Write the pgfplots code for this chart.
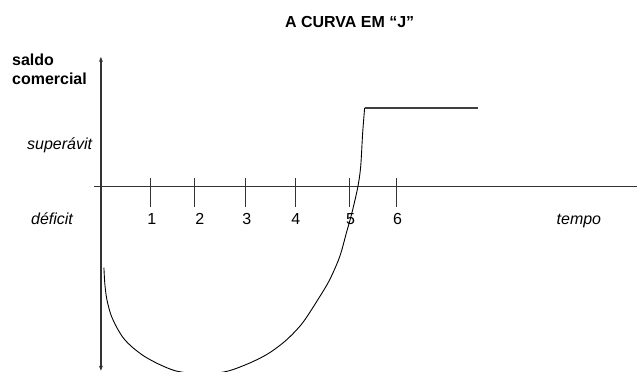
\documentclass[border=0pt]{standalone}
\usepackage{fontspec}
\setmainfont{Liberation Sans}
\usepackage{pgfplots}
\pgfplotsset{compat=1.18}
\usetikzlibrary{arrows.meta}

% pixel-like units: x = column, y = height above the time axis
\pgfplotstableread{
x   y
104 -81
105 -98
107 -113
111 -128
117 -141
124 -152
133 -161
145 -170
160 -178
175 -184
190 -186.5
205 -187
220 -186
233 -183
253 -175
270 -166
287 -153
303 -136
320 -110
330 -93
340 -70
347 -45
352 -27
358 -1
361 20
363 54
365 79
}\jcurve

\pgfplotstableread{
x   y
365 79
478 79
}\plateau

\begin{document}
\begin{tikzpicture}[font=\fontsize{16}{19}\selectfont]
\begin{axis}[
    scale only axis, width=638pt, height=372pt,
    xmin=0, xmax=638, ymin=-185, ymax=187,
    axis lines=none, clip mode=individual,
]
\path (rel axis cs:0,0) rectangle (rel axis cs:1,1);

% axes
\draw[line width=1.2pt, black!80, {Stealth[length=5pt,width=4pt]}-{Stealth[length=5pt,width=4pt]}]
    (axis cs:101,-184) -- (axis cs:101,130);
\draw[line width=1.2pt, black!80] (axis cs:94,0) -- (axis cs:638,0);
\pgfplotsinvokeforeach{151,195,246,296,350,397}{
    \draw[line width=1pt, black!80] (axis cs:#1,9) -- (axis cs:#1,-20);
}

% data
\addplot[black, line width=0.9pt, smooth, tension=0.5] table {\jcurve};
\addplot[black!75, line width=1.4pt] table {\plateau};

% texts
\node[anchor=base, inner sep=0pt] at (axis cs:350,159) {\bfseries A CURVA EM “J”};
\node[anchor=base west, inner sep=0pt] at (axis cs:12,121) {\bfseries saldo};
\node[anchor=base west, inner sep=0pt] at (axis cs:12,102) {\bfseries comercial};
\node[anchor=base west, inner sep=0pt] at (axis cs:27,37) {\itshape superávit};
\node[anchor=base west, inner sep=0pt] at (axis cs:31,-38) {\itshape déficit};
\node[anchor=base west, inner sep=0pt] at (axis cs:557,-38) {\itshape tempo};
\node[anchor=base, inner sep=0pt] at (axis cs:152,-38) {1};
\node[anchor=base, inner sep=0pt] at (axis cs:200,-38) {2};
\node[anchor=base, inner sep=0pt] at (axis cs:247,-38) {3};
\node[anchor=base, inner sep=0pt] at (axis cs:296,-38) {4};
\node[anchor=base, inner sep=0pt] at (axis cs:351,-38) {5};
\node[anchor=base, inner sep=0pt] at (axis cs:398,-38) {6};
\end{axis}
\end{tikzpicture}
\end{document}
